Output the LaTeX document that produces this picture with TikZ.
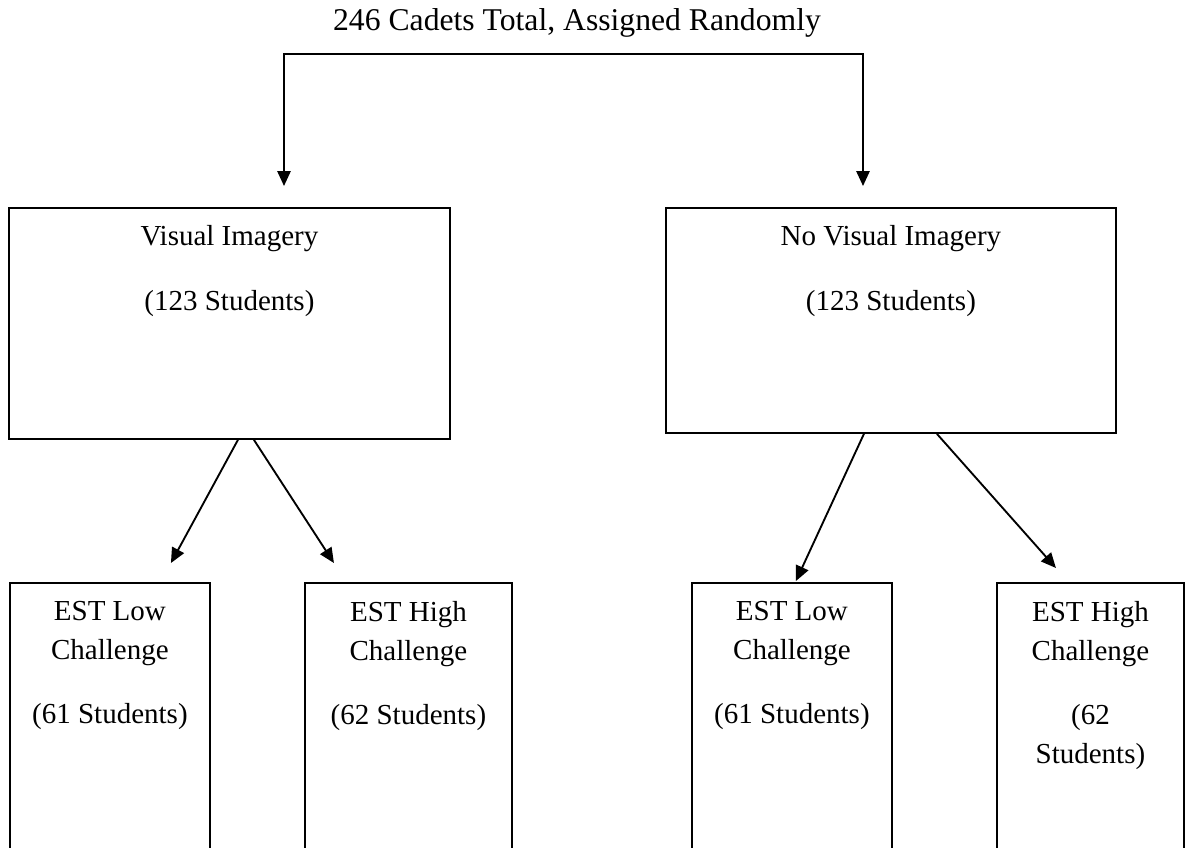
\documentclass[tikz,border=0pt]{standalone}
\usepackage{fontspec}
\setmainfont{Liberation Serif}
\usetikzlibrary{arrows.meta,calc}

\begin{document}
\begin{tikzpicture}[x=0.75pt,y=0.75pt,yscale=-1,xscale=1,
    box/.style={draw, line width=1.4pt, anchor=north west, inner sep=0pt},
    boxtxt/.style={anchor=north, inner sep=0pt, align=center, font=\fontsize{21.75}{29}\selectfont},
    arr/.style={line width=1.4pt, -{Triangle[length=11.25pt,width=10pt]}}]
    \useasboundingbox (0,0) rectangle (1185,847);
    \clip (0,0) rectangle (1185,847);

    % Text Node
    \node (title) [anchor=base, inner sep=0pt, font=\fontsize{23.75}{29}\selectfont] at (577,30) {246 Cadets Total, Assigned Randomly};

    %Shape: Rectangle [id:vi]
    \node (vi) [box, minimum width=330.75pt, minimum height=173.25pt] at (8,207) {};
    %Shape: Rectangle [id:nvi]
    \node (nvi) [box, minimum width=337.5pt, minimum height=168.75pt] at (665,207) {};

    %Shape: Rectangle [id:low1]
    \node (low1) [box, minimum width=150pt, minimum height=225pt] at (9,582) {};
    %Shape: Rectangle [id:high1]
    \node (high1) [box, minimum width=155.25pt, minimum height=225pt] at (304,582) {};
    %Shape: Rectangle [id:low2]
    \node (low2) [box, minimum width=150pt, minimum height=225pt] at (691,582) {};
    %Shape: Rectangle [id:high2]
    \node (high2) [box, minimum width=140.25pt, minimum height=225pt] at (996,582) {};

    % Text Node
    \node (vi-txt) [boxtxt] at ($(vi.north)+(0,18)$) {Visual Imagery\\[19.5pt](123 Students)};
    % Text Node
    \node (nvi-txt) [boxtxt] at ($(nvi.north)+(0,18)$) {No Visual Imagery\\[19.5pt](123 Students)};
    % Text Node
    \node (low1-txt) [boxtxt] at ($(low1.north)+(0,19)$) {EST Low\\Challenge\\[19.5pt](61 Students)};
    % Text Node
    \node (high1-txt) [boxtxt] at ($(high1.north)+(0,19)$) {EST High\\Challenge\\[19.5pt](62 Students)};
    % Text Node
    \node (low2-txt) [boxtxt] at ($(low2.north)+(0,19)$) {EST Low\\Challenge\\[19.5pt](61 Students)};
    % Text Node
    \node (high2-txt) [boxtxt] at ($(high2.north)+(0,19)$) {EST High\\Challenge\\[19.5pt](62\\Students)};

    %Connector Lines [id:split]
    \coordinate (splitL) at (284,54);
    \coordinate (splitR) at (863,54);
    \draw [line width=1.4pt, {Triangle[length=11.25pt,width=10pt]}-{Triangle[length=11.25pt,width=10pt]}, shorten <=15.75pt, shorten >=15.75pt]
        (splitL |- vi.north) -- (splitL) -- (splitR) -- (splitR |- nvi.north);

    %Straight Lines with arrows
    \draw [arr] ($(vi.south)+(8.5,0)$) -- ($(low1.north)+(61,-19)$);
    \draw [arr] ($(vi.south)+(24.5,0)$) -- ($(high1.north)+(-74.5,-19)$);
    \draw [arr] ($(nvi.south)+(-27,0)$) -- ($(low2.north)+(4,-1)$);
    \draw [arr] ($(nvi.south)+(46,0)$) -- ($(high2.north)+(-34.5,-14)$);
\end{tikzpicture}
\end{document}
